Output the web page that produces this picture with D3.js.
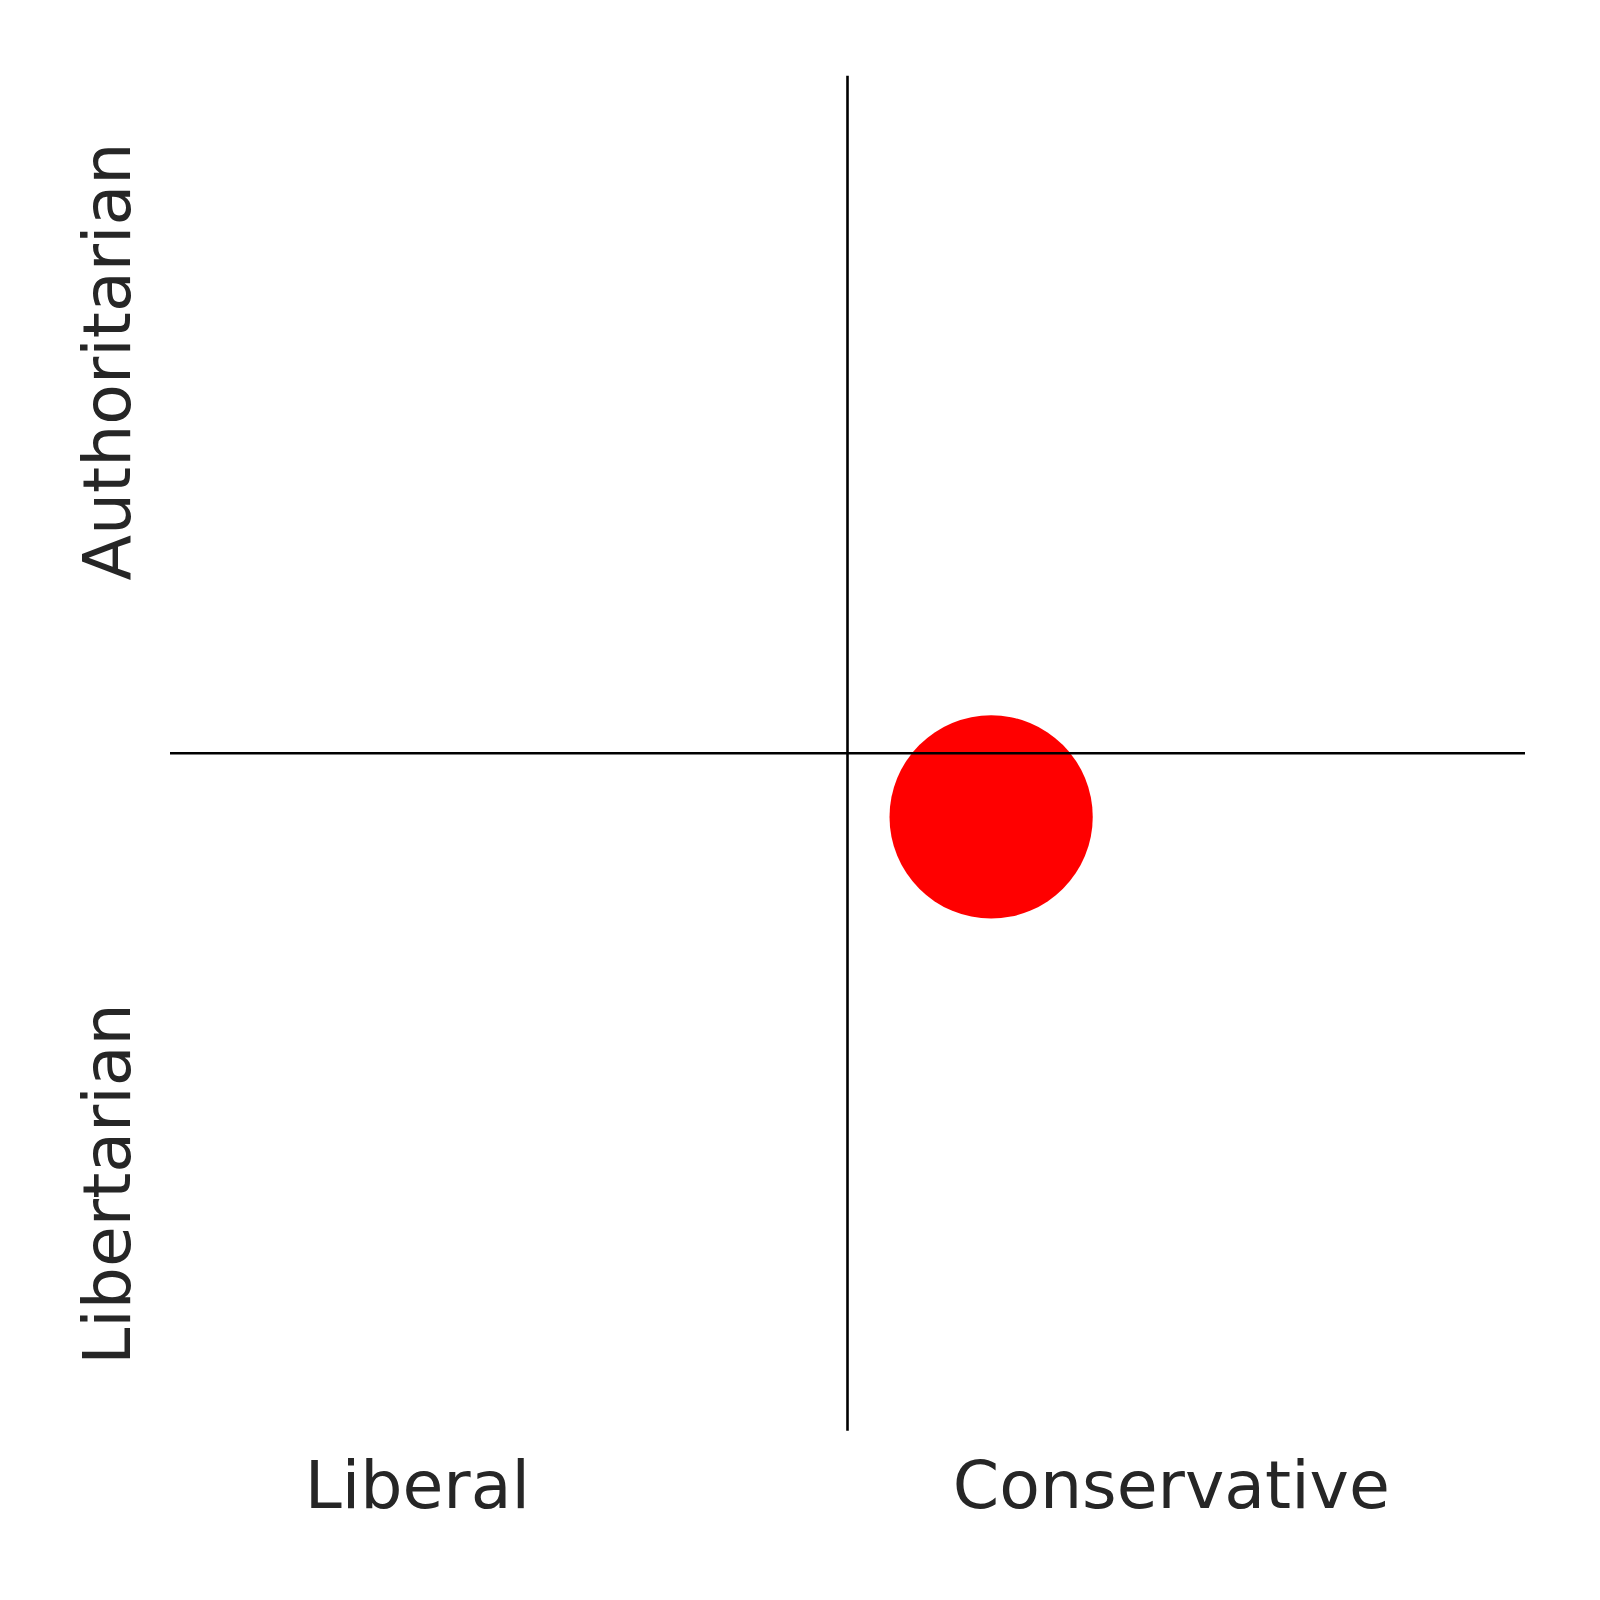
<!DOCTYPE html>
<html>
<head>
<meta charset="utf-8">
<script src="https://cdn.jsdelivr.net/npm/d3@7"></script>
<style>
  html, body { margin: 0; padding: 0; background: #ffffff; }
  svg { display: block; }
</style>
</head>
<body>
<div id="chart"></div>
<script>
// ---- data ----
const xDomain = [-10, 10];
const yDomain = [-10, 10];
const pointX = [2.12];
const pointY = [-0.94];
const pointRadius = [1.5];          // in data units
const pointColors = ["#ff0000"];
const xLabels = ["Liberal", "Conservative"];
const xLabelPos = [-6.35, 4.78];
const yLabels = ["Authoritarian", "Libertarian"];
const yLabelPos = [5.78, -6.36];

// ---- layout ----
const W = 1600, H = 1600;
const plotLeft = 170, plotRight = 1525, plotTop = 75.7, plotBottom = 1430.7;

const svg = d3.select("#chart").append("svg")
  .attr("width", W).attr("height", H);

const x = d3.scaleLinear().domain(xDomain).range([plotLeft, plotRight]);
const y = d3.scaleLinear().domain(yDomain).range([plotBottom, plotTop]);

// points (drawn beneath the axis lines)
const pts = pointX.map((v, i) => ({ x: v, y: pointY[i], r: pointRadius[i], c: pointColors[i] }));
svg.selectAll("circle.pt").data(pts).enter().append("circle")
  .attr("class", "pt")
  .attr("cx", d => x(d.x))
  .attr("cy", d => y(d.y))
  .attr("r", d => x(d.r) - x(0))
  .attr("fill", d => d.c);

// axes crossing at origin
svg.append("line")
  .attr("x1", x(xDomain[0])).attr("x2", x(xDomain[1]))
  .attr("y1", y(0)).attr("y2", y(0))
  .attr("stroke", "#000").attr("stroke-width", 2.6);
svg.append("line")
  .attr("x1", x(0)).attr("x2", x(0))
  .attr("y1", y(yDomain[0])).attr("y2", y(yDomain[1]))
  .attr("stroke", "#000").attr("stroke-width", 2.6);

// labels
const font = "'DejaVu Sans', sans-serif";
svg.selectAll("text.xl").data(xLabels).enter().append("text")
  .attr("class", "xl")
  .attr("x", (d, i) => x(xLabelPos[i]))
  .attr("y", plotBottom + 77.6)
  .attr("text-anchor", "middle")
  .attr("font-family", font)
  .attr("font-size", 66.5)
  .attr("fill", "#262626")
  .text(d => d);

svg.selectAll("text.yl").data(yLabels).enter().append("text")
  .attr("class", "yl")
  .attr("transform", (d, i) => `translate(${plotLeft - 40},${y(yLabelPos[i])}) rotate(-90)`)
  .attr("text-anchor", "middle")
  .attr("font-family", font)
  .attr("font-size", 66.5)
  .attr("fill", "#262626")
  .text(d => d);
</script>
</body>
</html>
